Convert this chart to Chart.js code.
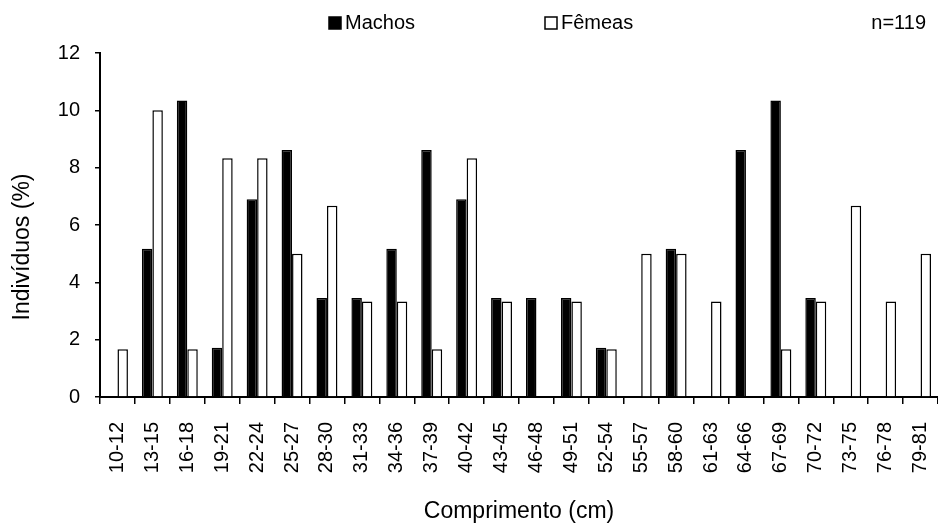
<!DOCTYPE html>
<html>
<head>
<meta charset="utf-8">
<script src="https://cdn.jsdelivr.net/npm/chart.js@4"></script>
<style>
  html, body { margin: 0; padding: 0; background: #fff; }
</style>
</head>
<body>
<canvas id="myChart" width="938" height="528"></canvas>
<script>
// size classes (cm)
var classes = ["10-12","13-15","16-18","19-21","22-24","25-27","28-30","31-33","34-36","37-39","40-42","43-45",
               "46-48","49-51","52-54","55-57","58-60","61-63","64-66","67-69","70-72","73-75","76-78","79-81"];
// % of individuals
var machos = [0, 5.17, 10.34, 1.72, 6.90, 8.62, 3.45, 3.45, 5.17, 8.62, 6.90, 3.45,
              3.45, 3.45, 1.72, 0, 5.17, 0, 8.62, 10.34, 3.45, 0, 0, 0];
var femeas = [1.67, 10.00, 1.67, 8.33, 8.33, 5.00, 6.67, 3.33, 3.33, 1.67, 8.33, 3.33,
              0, 3.33, 1.67, 5.00, 5.00, 3.33, 0, 1.67, 3.33, 6.67, 3.33, 5.00];
var yTicks = [0, 2, 4, 6, 8, 10, 12];
var sampleText = "n=119";
var yTitle = "Indivíduos (%)";
var xTitle = "Comprimento (cm)";

var FONT = '"Liberation Sans", Arial, sans-serif';

// legend, sample size and y title drawn outside the plot
var extras = {
  id: "extras",
  afterDraw: function (chart) {
    var ctx = chart.ctx;
    var xs = [329, 545];
    ctx.save();
    ctx.font = "20px " + FONT;
    ctx.textBaseline = "middle";
    chart.data.datasets.forEach(function (ds, i) {
      ctx.fillStyle = ds.backgroundColor;
      ctx.fillRect(xs[i], 17, 12, 12);
      ctx.strokeStyle = "#000";
      ctx.lineWidth = 1.5;
      ctx.strokeRect(xs[i], 17, 12, 12);
      ctx.fillStyle = "#000";
      ctx.fillText(ds.label, xs[i] + 16, 23);
    });
    ctx.textAlign = "right";
    ctx.fillText(sampleText, 926, 23);

    ctx.font = "23px " + FONT;
    ctx.textAlign = "center";
    ctx.translate(23, 247);
    ctx.rotate(-Math.PI / 2);
    ctx.fillText(yTitle, 0, 0);
    ctx.restore();
  }
};

new Chart(document.getElementById("myChart"), {
  type: "bar",
  data: {
    labels: classes,
    datasets: [
      {
        label: "Machos",
        data: machos,
        backgroundColor: "#000",
        borderColor: "#000",
        borderWidth: 1.5
      },
      {
        label: "Fêmeas",
        data: femeas,
        backgroundColor: "#fff",
        borderColor: "#000",
        borderWidth: 1.5
      }
    ]
  },
  options: {
    responsive: false,
    animation: false,
    layout: { padding: { top: 53, left: 0, right: 0, bottom: 0 } },
    datasets: { bar: { categoryPercentage: 0.6, barPercentage: 1.0 } },
    plugins: { legend: { display: false }, tooltip: { enabled: false } },
    scales: {
      x: {
        grid: { offset: true, drawOnChartArea: false, drawTicks: true, tickLength: 7, color: "#000", lineWidth: 1.5 },
        border: { color: "#000", width: 2 },
        ticks: { color: "#000", font: { family: FONT, size: 20 }, minRotation: 90, maxRotation: 90, padding: 18, autoSkip: false },
        title: { display: true, text: xTitle, color: "#000", font: { family: FONT, size: 23 }, padding: { top: 0, bottom: 3 } },
        afterFit: function (axis) { axis.height = 131; axis.paddingRight = 0; axis.paddingLeft = 0; }
      },
      y: {
        min: 0,
        max: 12,
        afterBuildTicks: function (axis) { axis.ticks = yTicks.map(function (v) { return { value: v }; }); },
        grid: { drawOnChartArea: false, drawTicks: true, tickLength: 5, color: "#000", lineWidth: 1.5 },
        border: { color: "#000", width: 2 },
        ticks: { color: "#000", font: { family: FONT, size: 20 }, padding: 15 },
        afterFit: function (axis) { axis.width = 100; }
      }
    }
  },
  plugins: [extras]
});
</script>
</body>
</html>
